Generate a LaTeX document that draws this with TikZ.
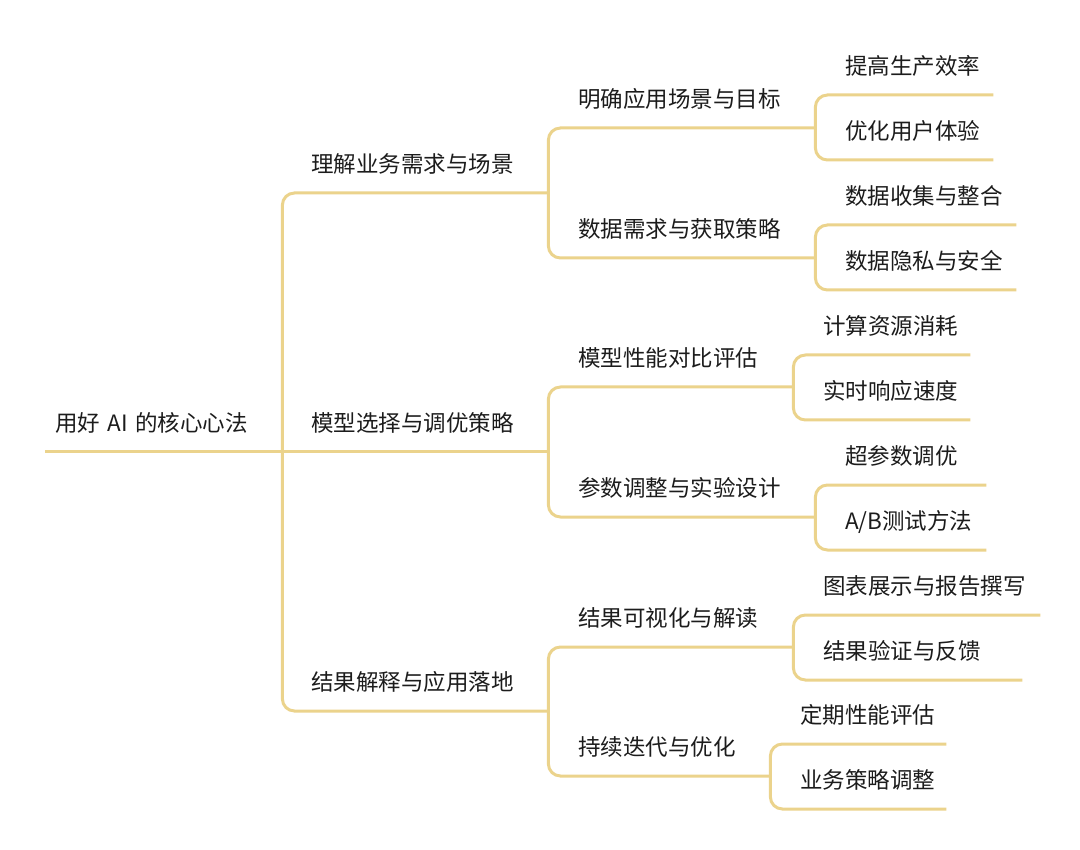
\documentclass[tikz,border=0pt]{standalone}
\usepackage{fontspec}
\newfontfamily\cjk{Noto Sans CJK SC}
\definecolor{gold}{HTML}{EBD38C}
\definecolor{txt}{HTML}{1C1C1C}
\tikzset{
  topic/.style={anchor=south west, inner xsep=0pt, inner ysep=0pt,
    minimum height=58pt, minimum width=#1, text width=#1, align=left,
    text height=19pt, text depth=2pt, text=txt,
    font=\cjk\fontsize{22.5}{27}\selectfont},
  link/.style={draw=gold, line width=3pt, rounded corners=12pt}
}
\begin{document}
\begin{tikzpicture}[x=1pt,y=-1pt]
\useasboundingbox (0,0) rectangle (1080,850);
% nodes
\node[topic=237pt] (root) at (45,452) {\hspace*{10pt}用好 AI 的核心心法};
\node[topic=266pt] (A) at (282,193) {\hspace*{29pt}理解业务需求与场景};
\node[topic=266pt] (B) at (282,452) {\hspace*{29pt}模型选择与调优策略};
\node[topic=266pt] (C) at (282,711) {\hspace*{29pt}结果解释与应用落地};
\node[topic=267pt] (A1) at (548,128) {\hspace*{30pt}明确应用场景与目标};
\node[topic=267pt] (A2) at (548,258) {\hspace*{30pt}数据需求与获取策略};
\node[topic=245pt] (B1) at (548,387) {\hspace*{30pt}模型性能对比评估};
\node[topic=267pt] (B2) at (548,517) {\hspace*{30pt}参数调整与实验设计};
\node[topic=245pt] (C1) at (548,647) {\hspace*{30pt}结果可视化与解读};
\node[topic=222pt] (C2) at (548,776) {\hspace*{30pt}持续迭代与优化};
\node[topic=178pt] (A1a) at (815,95) {\hspace*{30pt}提高生产效率};
\node[topic=178pt] (A1b) at (815,160) {\hspace*{30pt}优化用户体验};
\node[topic=201pt] (A2a) at (815,225) {\hspace*{30pt}数据收集与整合};
\node[topic=201pt] (A2b) at (815,290) {\hspace*{30pt}数据隐私与安全};
\node[topic=177pt] (B1a) at (793,355) {\hspace*{30pt}计算资源消耗};
\node[topic=177pt] (B1b) at (793,420) {\hspace*{30pt}实时响应速度};
\node[topic=171pt] (B2a) at (815,485) {\hspace*{30pt}超参数调优};
\node[topic=171pt] (B2b) at (815,550) {\hspace*{30pt}A/B测试方法};
\node[topic=247pt] (C1a) at (793,615) {\hspace*{30pt}图表展示与报告撰写};
\node[topic=229pt] (C1b) at (793,680) {\hspace*{30pt}结果验证与反馈};
\node[topic=176pt] (C2a) at (770,744) {\hspace*{30pt}定期性能评估};
\node[topic=176pt] (C2b) at (770,809) {\hspace*{30pt}业务策略调整};
% connectors
\draw[link] (root.south west) -- (root.south east);
\draw[link] (root.south east) |- (A.south east);
\draw[link] (root.south east) -- (B.south east);
\draw[link] (root.south east) |- (C.south east);
\draw[link] (A.south east) |- (A1.south east);
\draw[link] (A.south east) |- (A2.south east);
\draw[link] (B.south east) |- (B1.south east);
\draw[link] (B.south east) |- (B2.south east);
\draw[link] (C.south east) |- (C1.south east);
\draw[link] (C.south east) |- (C2.south east);
\draw[link] (A1.south east) |- (A1a.south east);
\draw[link] (A1.south east) |- (A1b.south east);
\draw[link] (A2.south east) |- (A2a.south east);
\draw[link] (A2.south east) |- (A2b.south east);
\draw[link] (B1.south east) |- (B1a.south east);
\draw[link] (B1.south east) |- (B1b.south east);
\draw[link] (B2.south east) |- (B2a.south east);
\draw[link] (B2.south east) |- (B2b.south east);
\draw[link] (C1.south east) |- (C1a.south east);
\draw[link] (C1.south east) |- (C1b.south east);
\draw[link] (C2.south east) |- (C2a.south east);
\draw[link] (C2.south east) |- (C2b.south east);
\end{tikzpicture}
\end{document}
